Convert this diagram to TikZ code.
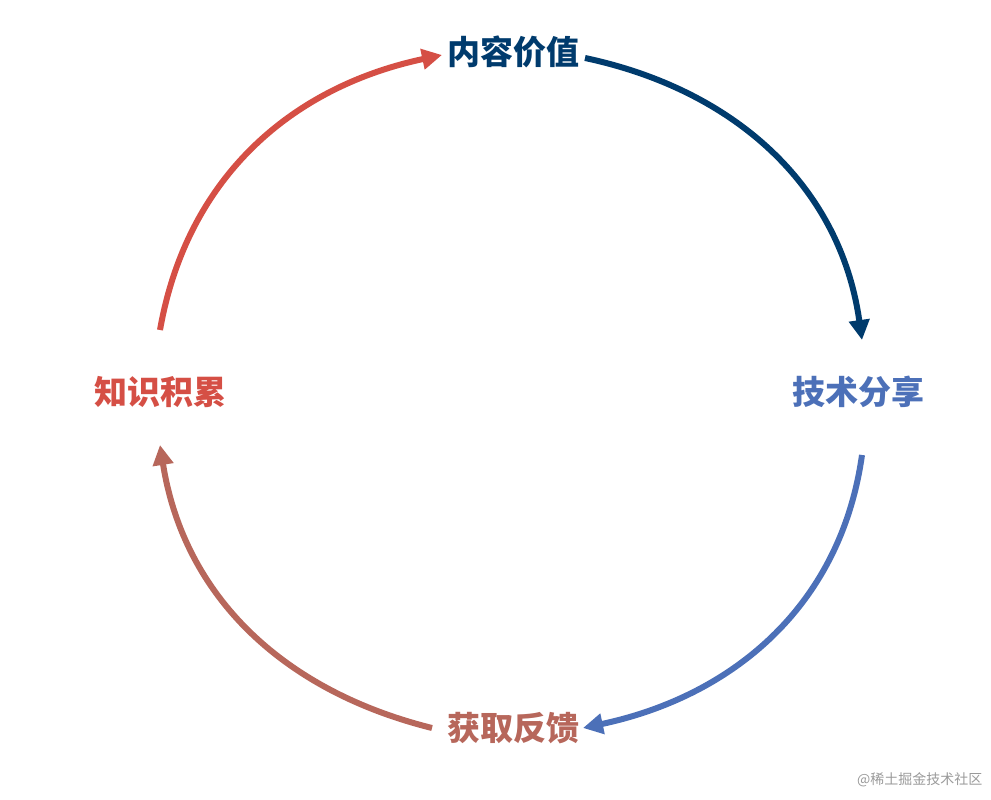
\documentclass[tikz,border=0pt]{standalone}
\usepackage{fontspec}
\newfontfamily\cjk{Noto Sans CJK SC}
\usetikzlibrary{arrows.meta}
\definecolor{cdark}{HTML}{003B6D}
\definecolor{cblue}{HTML}{4C70B8}
\definecolor{cbrown}{HTML}{B7675B}
\definecolor{cred}{HTML}{D54F45}
\definecolor{cgray}{HTML}{9A9A9A}
\tikzset{lbl/.style={font=\cjk\bfseries\fontsize{33}{36}\selectfont,inner sep=0pt},
arc/.style={line width=6pt,-{Triangle[length=20pt,width=20pt]},looseness=1}}
\begin{document}
\begin{tikzpicture}[x=1pt,y=1pt]
\useasboundingbox (0,0) rectangle (991,800);
\node[lbl,text=cdark] (top) at (513,748) {内容价值};
\node[lbl,text=cblue] (right) at (858,408) {技术分享};
\node[lbl,text=cred] (left) at (160,408) {知识积累};
\node[lbl,text=cbrown] (bottom) at (513,72) {获取反馈};
\node[font=\cjk\fontsize{14}{16}\selectfont,text=cgray,anchor=east] (wm) at (986,20) {@稀土掘金技术社区};
\coordinate (a1) at (585,742);
\coordinate (a2) at (862,460);
\coordinate (b1) at (862,345);
\coordinate (b2) at (583,72);
\coordinate (c1) at (432,72);
\coordinate (c2) at (160,355);
\coordinate (d1) at (160,470);
\coordinate (d2) at (442,745);
\draw[arc,cdark] (a1) to[out=-12,in=98] (a2);
\draw[arc,cblue] (b1) to[out=-98,in=12] (b2);
\draw[arc,cbrown] (c1) to[out=166,in=-81] (c2);
\draw[arc,cred] (d1) to[out=80,in=192] (d2);
\end{tikzpicture}
\end{document}
